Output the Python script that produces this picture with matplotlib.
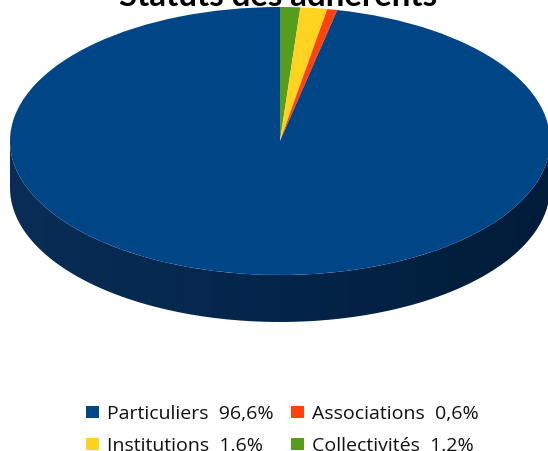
import matplotlib
matplotlib.use('Agg')
import matplotlib.pyplot as plt
from matplotlib.colors import LinearSegmentedColormap
from matplotlib.patches import PathPatch, Rectangle
from matplotlib.path import Path
import numpy as np

# clockwise from the top of the pie
labels = ['Collectivités', 'Institutions', 'Associations', 'Particuliers']
values = [1.2, 1.6, 0.6, 96.6]
colors = ['#579d1c', '#ffd320', '#ff420e', '#004586']
legend_labels = ['Particuliers  96,6%', 'Associations  0,6%', 'Institutions  1.6%', 'Collectivités  1.2%']
legend_colors = ['#004586', '#ff420e', '#ffd320', '#579d1c']
side_colors = ['#0a2d57', '#06294f', '#04254a', '#022040', '#011c3a']

W, H = 548, 452
plt.rcParams['font.family'] = ['Lato', 'DejaVu Sans']
fig = plt.figure(figsize=(W / 100, H / 100), dpi=100)

# whole figure in pixels, y down
ax = fig.add_axes([0, 0, 1, 1])
cx, cy, rx, ry, depth = 280, 142, 270, 134, 47

# side of the pie: horizontal gradient clipped to the extruded ellipse
t = np.linspace(np.pi, 0, 200)
xs = cx + rx * np.cos(t)
top = cy + ry * np.sin(t)
verts = list(zip(xs, top + depth)) + list(zip(xs[::-1], top[::-1]))
side = PathPatch(Path(verts + [verts[0]]), fc='none', ec='none')
ax.add_patch(side)
cmap = LinearSegmentedColormap.from_list('side', side_colors)
im = ax.imshow(np.linspace(0, 1, 256)[None, :], cmap=cmap, aspect='auto',
               extent=[cx - rx, cx + rx, cy + ry + depth, cy])
im.set_clip_path(side)

# top face: real pie stretched to an ellipse
wedges, _ = ax.pie(values, colors=colors, startangle=90, counterclock=False,
                   center=(cx, cy), radius=1, frame=True)
for w in wedges:
    w.set_radius(1)
    w.set_transform(matplotlib.transforms.Affine2D().scale(rx, -ry).translate(cx, cy) + ax.transData)
    w.set_center((0, 0))

ax.set_aspect('auto')
ax.set_xlim(0, W)
ax.set_ylim(H, 0)
ax.axis('off')

ax.text(278, 6, 'Statuts des adhérents', ha='center', va='baseline',
        fontsize=23.8, fontweight='bold', color='black')

legend_pos = [(86, 413), (291, 413), (86, 445), (291, 445)]
for (x, y), lab, col in zip(legend_pos, legend_labels, legend_colors):
    ax.add_patch(Rectangle((x, y - 6), 13, 12, fc=col, ec='none'))
    ax.text(x + 21, y + 6, lab, ha='left', va='baseline', fontsize=14, color='#111111',
            family=['Open Sans', 'DejaVu Sans'])

fig.savefig('out.png', dpi=100)
